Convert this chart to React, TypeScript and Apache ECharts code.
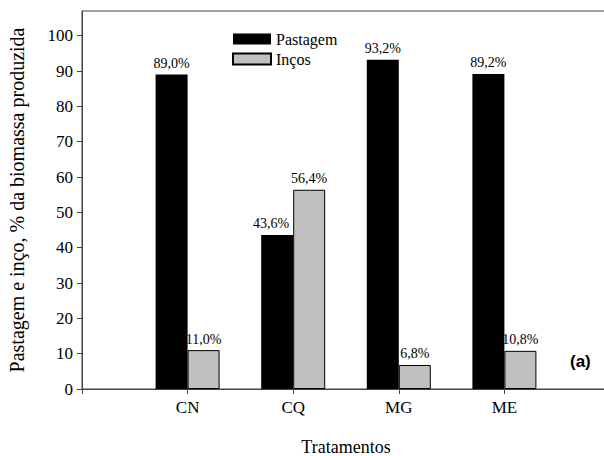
import React, { useEffect, useRef } from "react";
import * as echarts from "echarts";

const categories = ["", "CN", "CQ", "MG", "ME", ""];
const pastagem = [null, 89.0, 43.6, 93.2, 89.2, null];
const incos = [null, 11.0, 56.4, 6.8, 10.8, null];
const yTicks = [0, 10, 20, 30, 40, 50, 60, 70, 80, 90, 100];

const SERIF = "Times New Roman, Liberation Serif, serif";
const fmt = (p: any) => (p.value == null ? "" : Number(p.value).toFixed(1).replace(".", ",") + "%");

export default function App() {
  const ref = useRef<HTMLDivElement>(null);
  useEffect(() => {
    if (!ref.current) return;
    const chart = echarts.init(ref.current, undefined, { renderer: "svg" });
    const axisColor = "#444";
    chart.setOption({
      animation: false,
      grid: {
        left: 82,
        top: 11,
        bottom: 67,
        right: 2,
        outerBoundsMode: "none",
        containLabel: false,
        show: true,
        borderColor: axisColor,
        borderWidth: 1,
      },
      legend: {
        orient: "vertical",
        left: 227,
        top: 26,
        itemWidth: 38,
        itemHeight: 11,
        itemGap: 4,
        icon: "rect",
        textStyle: { fontFamily: SERIF, fontSize: 16, color: "#000" },
        data: ["Pastagem", "Inços"],
      },
      xAxis: {
        type: "category",
        data: categories,
        boundaryGap: false,
        name: "Tratamentos",
        nameLocation: "middle",
        nameGap: 49,
        nameTextStyle: { fontFamily: SERIF, fontSize: 18, color: "#000" },
        axisLine: { lineStyle: { color: axisColor, width: 1 } },
        axisTick: { show: true, length: 5, interval: 0, lineStyle: { color: axisColor } },
        axisLabel: { interval: 0, margin: 10, fontFamily: SERIF, fontSize: 17, color: "#000" },
        splitLine: { show: false },
      },
      yAxis: {
        type: "value",
        min: 0,
        max: 107,
        interval: 10,
        name: "Pastagem e inço, % da biomassa produzida",
        nameLocation: "middle",
        nameGap: 55,
        nameTextStyle: { fontFamily: SERIF, fontSize: 20, color: "#000" },
        axisLine: { show: true, lineStyle: { color: axisColor, width: 1 } },
        axisTick: { show: true, length: 5, customValues: yTicks, lineStyle: { color: axisColor } },
        axisLabel: { customValues: yTicks, margin: 9, fontFamily: SERIF, fontSize: 17, color: "#000" },
        splitLine: { show: false },
      },
      series: [
        {
          name: "Pastagem",
          type: "bar",
          barWidth: 32,
          barGap: "0%",
          itemStyle: { color: "#000" },
          label: { show: true, position: "top", distance: 4, formatter: fmt, fontFamily: SERIF, fontSize: 14, color: "#000" },
          data: pastagem.map((v, i) =>
            categories[i] === "CQ" ? { value: v, label: { offset: [-6, 0] } } : v
          ),
        },
        {
          name: "Inços",
          type: "bar",
          barWidth: 32,
          barGap: "0%",
          itemStyle: { color: "#c0c0c0", borderColor: "#000", borderWidth: 1 },
          label: { show: true, position: "top", distance: 4, formatter: fmt, fontFamily: SERIF, fontSize: 14, color: "#000" },
          data: incos,
        },
      ],
      graphic: [
        {
          type: "text",
          left: 570,
          top: 353,
          style: {
            text: "(a)",
            fontFamily: "Liberation Sans, Arial, sans-serif",
            fontWeight: "bold",
            fontSize: 17,
            fill: "#000",
          },
        },
      ],
    });
    return () => chart.dispose();
  }, []);
  return (
    <div
      ref={ref}
      style={{ position: "fixed", left: 0, top: 0, width: 612, height: 456, background: "#fff" }}
    />
  );
}
